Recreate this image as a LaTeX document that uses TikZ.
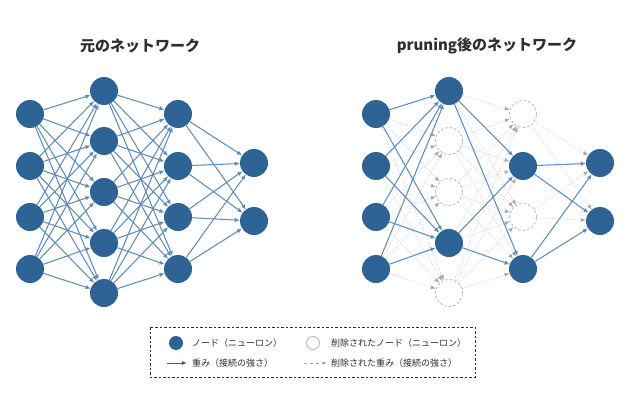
\documentclass[tikz,border=0pt]{standalone}
\usepackage{fontspec}
\setmainfont{Noto Sans CJK JP}
\usetikzlibrary{arrows.meta}
\definecolor{nodeblue}{HTML}{2E6395}
\definecolor{edgeblue}{HTML}{5F8CB8}
\definecolor{prunegray}{HTML}{BDBDBD}
\definecolor{gedgecol}{HTML}{CFCFCF}
\definecolor{gtipcol}{HTML}{A8A8A8}
\definecolor{txt}{HTML}{2E2E2E}
\begin{document}
\begin{tikzpicture}[x=1pt,y=-1pt,
  neuron/.style={circle,fill=nodeblue,minimum size=28pt,inner sep=0pt},
  pruned/.style={circle,draw=prunegray,dash pattern=on 2.5pt off 2pt,line width=0.9pt,minimum size=27pt,inner sep=0pt,fill=white},
  wedge/.style={draw=edgeblue,line width=1.05pt,-{Latex[length=5pt,width=4.5pt]}},
  gedge/.style={draw=gedgecol,line width=0.55pt,dash pattern=on 1.5pt off 1.5pt,-{Latex[length=5pt,width=4pt,color=gtipcol]}},
  title/.style={font=\fontsize{15}{18}\selectfont\bfseries,text=txt},
  legtext/.style={font=\fontsize{9}{11}\selectfont,text=txt,anchor=west,inner sep=0pt}
]
\useasboundingbox (0,0) rectangle (626,404);
% titles
\node[title] (t1) at (140,46) {元のネットワーク};
\node[title] (t2) at (487,46) {pruning後のネットワーク};
% ---------- left network ----------
\foreach \i/\y in {1/114,2/166,3/217,4/269}{
  \node[neuron] (a1-\i) at (30,\y) {};
  \node[neuron] (a3-\i) at (178,\y) {};
}
\foreach \i/\y in {1/91,2/141,3/192,4/243,5/293}{
  \node[neuron] (a2-\i) at (104,\y) {};
}
\foreach \i/\y in {1/163,2/221}{
  \node[neuron] (a4-\i) at (254,\y) {};
}
\foreach \i in {1,...,4}{\foreach \j in {1,...,5}{\draw[wedge] (a1-\i) -- (a2-\j);}}
\foreach \i in {1,...,5}{\foreach \j in {1,...,4}{\draw[wedge] (a2-\i) -- (a3-\j);}}
\foreach \i in {1,...,4}{\foreach \j in {1,2}{\draw[wedge] (a3-\i) -- (a4-\j);}}
% ---------- right network ----------
\foreach \i/\y in {1/114,2/166,3/217,4/269}{
  \node[neuron] (b1-\i) at (376,\y) {};
}
\node[neuron] (b2-1) at (449,91) {};
\node[pruned] (b2-2) at (449,141) {};
\node[pruned] (b2-3) at (449,192) {};
\node[neuron] (b2-4) at (449,243) {};
\node[pruned] (b2-5) at (449,293) {};
\node[pruned] (b3-1) at (523,114) {};
\node[neuron] (b3-2) at (523,166) {};
\node[pruned] (b3-3) at (523,217) {};
\node[neuron] (b3-4) at (523,269) {};
\node[neuron] (b4-1) at (600,163) {};
\node[neuron] (b4-2) at (600,221) {};
% pruned connections
\foreach \i in {1,...,4}{\foreach \j in {2,3,5}{\draw[gedge] (b1-\i) -- (b2-\j);}}
\foreach \i in {1,4}{\foreach \j in {1,3}{\draw[gedge] (b2-\i) -- (b3-\j);}}
\foreach \i in {2,3,5}{\foreach \j in {1,...,4}{\draw[gedge] (b2-\i) -- (b3-\j);}}
\foreach \i in {1,3}{\foreach \j in {1,2}{\draw[gedge] (b3-\i) -- (b4-\j);}}
% kept connections
\foreach \i in {1,...,4}{\foreach \j in {1,4}{\draw[wedge] (b1-\i) -- (b2-\j);}}
\foreach \i in {1,4}{\foreach \j in {2,4}{\draw[wedge] (b2-\i) -- (b3-\j);}}
\foreach \i in {2,4}{\foreach \j in {1,2}{\draw[wedge] (b3-\i) -- (b4-\j);}}
% ---------- legend ----------
\draw[draw=txt,line width=0.9pt,dash pattern=on 2.5pt off 2pt] (150,327) rectangle (475,377);
\node[circle,fill=nodeblue,minimum size=14pt,inner sep=0pt] (lg1) at (176,343) {};
\node[legtext] (lt1) at (192,343) {ノード（ニューロン）};
\node[circle,draw=prunegray,line width=1pt,minimum size=13pt,inner sep=0pt] (lg2) at (313,343) {};
\node[legtext] (lt2) at (331,343) {削除されたノード（ニューロン）};
\coordinate (la1) at (167,363);
\coordinate (la2) at (187,363);
\draw[draw=nodeblue,line width=1pt,-{Latex[length=5pt,width=4pt]}] (la1) -- (la2);
\node[legtext] (lt3) at (192,363) {重み（接続の強さ）};
\coordinate (lb1) at (304,363);
\coordinate (lb2) at (327,363);
\draw[draw=gray!75,line width=0.9pt,dash pattern=on 3pt off 3pt,-{Latex[length=4.5pt,width=3.5pt,color=gray!75]}] (lb1) -- (lb2);
\node[legtext] (lt4) at (331,363) {削除された重み（接続の強さ）};
\end{tikzpicture}
\end{document}
